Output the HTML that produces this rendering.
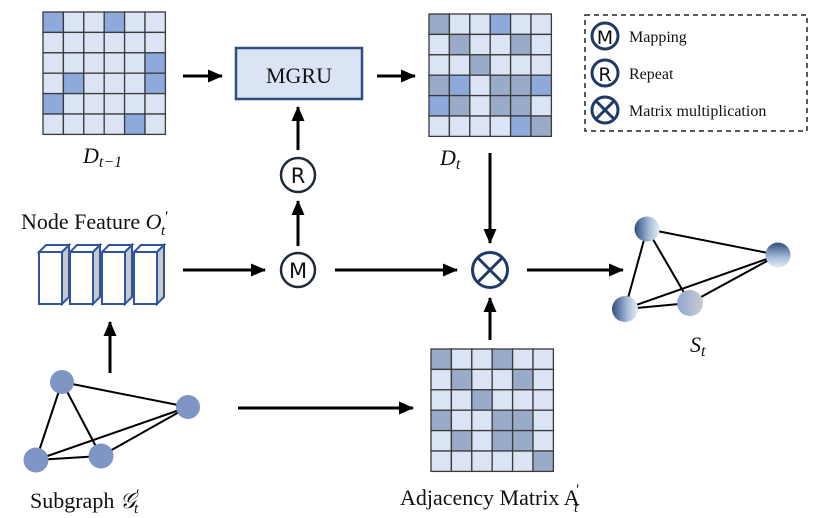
<!DOCTYPE html>
<html><head><meta charset="utf-8"><style>
html,body{margin:0;padding:0;background:#fff}
svg{display:block}
text{font-family:"Liberation Serif",serif;fill:#111}
.c rect{stroke:#3a3a3a;stroke-width:1.3}
.l{fill:#dbe4f4}.b{fill:#8eaadc}.g{fill:#9aabc9}
</style></head><body>
<svg width="813" height="518" viewBox="0 0 813 518" xmlns="http://www.w3.org/2000/svg">
<defs>
<marker id="ar" markerWidth="15" markerHeight="13" refX="14" refY="6.5" orient="auto" markerUnits="userSpaceOnUse" viewBox="0 0 15 13"><path d="M0,0 L15,6.5 L0,13 z" fill="#000"/></marker>
<linearGradient id="sg" x1="0" y1="0" x2="1" y2="0"><stop offset="0" stop-color="#2f4f7f"/><stop offset="0.6" stop-color="#a8bcd9"/><stop offset="1" stop-color="#e4ecf7"/></linearGradient>
<linearGradient id="sg2" x1="0" y1="0" x2="0" y2="1"><stop offset="0" stop-color="#2f4f7f"/><stop offset="0.6" stop-color="#a8bcd9"/><stop offset="1" stop-color="#e4ecf7"/></linearGradient>
<linearGradient id="sg3" x1="0" y1="0" x2="1" y2="0"><stop offset="0" stop-color="#8ea5d0"/><stop offset="1" stop-color="#c8ccd4"/></linearGradient>
</defs>

<!-- D_{t-1} -->
<g class="c" transform="translate(43,12)">
<rect class="b" x="0" y="0" width="20.4" height="20.4"/><rect class="l" x="20.4" y="0" width="20.4" height="20.4"/><rect class="l" x="40.8" y="0" width="20.4" height="20.4"/><rect class="b" x="61.2" y="0" width="20.4" height="20.4"/><rect class="l" x="81.6" y="0" width="20.4" height="20.4"/><rect class="l" x="102" y="0" width="20.4" height="20.4"/>
<rect class="l" x="0" y="20.4" width="20.4" height="20.4"/><rect class="l" x="20.4" y="20.4" width="20.4" height="20.4"/><rect class="l" x="40.8" y="20.4" width="20.4" height="20.4"/><rect class="l" x="61.2" y="20.4" width="20.4" height="20.4"/><rect class="l" x="81.6" y="20.4" width="20.4" height="20.4"/><rect class="l" x="102" y="20.4" width="20.4" height="20.4"/>
<rect class="l" x="0" y="40.8" width="20.4" height="20.4"/><rect class="l" x="20.4" y="40.8" width="20.4" height="20.4"/><rect class="l" x="40.8" y="40.8" width="20.4" height="20.4"/><rect class="l" x="61.2" y="40.8" width="20.4" height="20.4"/><rect class="l" x="81.6" y="40.8" width="20.4" height="20.4"/><rect class="b" x="102" y="40.8" width="20.4" height="20.4"/>
<rect class="l" x="0" y="61.2" width="20.4" height="20.4"/><rect class="b" x="20.4" y="61.2" width="20.4" height="20.4"/><rect class="l" x="40.8" y="61.2" width="20.4" height="20.4"/><rect class="l" x="61.2" y="61.2" width="20.4" height="20.4"/><rect class="l" x="81.6" y="61.2" width="20.4" height="20.4"/><rect class="b" x="102" y="61.2" width="20.4" height="20.4"/>
<rect class="b" x="0" y="81.6" width="20.4" height="20.4"/><rect class="l" x="20.4" y="81.6" width="20.4" height="20.4"/><rect class="l" x="40.8" y="81.6" width="20.4" height="20.4"/><rect class="l" x="61.2" y="81.6" width="20.4" height="20.4"/><rect class="l" x="81.6" y="81.6" width="20.4" height="20.4"/><rect class="l" x="102" y="81.6" width="20.4" height="20.4"/>
<rect class="l" x="0" y="102" width="20.4" height="20.4"/><rect class="l" x="20.4" y="102" width="20.4" height="20.4"/><rect class="l" x="40.8" y="102" width="20.4" height="20.4"/><rect class="l" x="61.2" y="102" width="20.4" height="20.4"/><rect class="b" x="81.6" y="102" width="20.4" height="20.4"/><rect class="l" x="102" y="102" width="20.4" height="20.4"/>
</g>

<!-- D_t -->
<g class="c" transform="translate(429,14)">
<rect class="g" x="0" y="0" width="20.4" height="20.4"/><rect class="l" x="20.4" y="0" width="20.4" height="20.4"/><rect class="l" x="40.8" y="0" width="20.4" height="20.4"/><rect class="b" x="61.2" y="0" width="20.4" height="20.4"/><rect class="l" x="81.6" y="0" width="20.4" height="20.4"/><rect class="l" x="102" y="0" width="20.4" height="20.4"/>
<rect class="l" x="0" y="20.4" width="20.4" height="20.4"/><rect class="g" x="20.4" y="20.4" width="20.4" height="20.4"/><rect class="l" x="40.8" y="20.4" width="20.4" height="20.4"/><rect class="l" x="61.2" y="20.4" width="20.4" height="20.4"/><rect class="g" x="81.6" y="20.4" width="20.4" height="20.4"/><rect class="l" x="102" y="20.4" width="20.4" height="20.4"/>
<rect class="l" x="0" y="40.8" width="20.4" height="20.4"/><rect class="l" x="20.4" y="40.8" width="20.4" height="20.4"/><rect class="g" x="40.8" y="40.8" width="20.4" height="20.4"/><rect class="l" x="61.2" y="40.8" width="20.4" height="20.4"/><rect class="l" x="81.6" y="40.8" width="20.4" height="20.4"/><rect class="l" x="102" y="40.8" width="20.4" height="20.4"/>
<rect class="g" x="0" y="61.2" width="20.4" height="20.4"/><rect class="b" x="20.4" y="61.2" width="20.4" height="20.4"/><rect class="l" x="40.8" y="61.2" width="20.4" height="20.4"/><rect class="g" x="61.2" y="61.2" width="20.4" height="20.4"/><rect class="g" x="81.6" y="61.2" width="20.4" height="20.4"/><rect class="b" x="102" y="61.2" width="20.4" height="20.4"/>
<rect class="b" x="0" y="81.6" width="20.4" height="20.4"/><rect class="g" x="20.4" y="81.6" width="20.4" height="20.4"/><rect class="l" x="40.8" y="81.6" width="20.4" height="20.4"/><rect class="g" x="61.2" y="81.6" width="20.4" height="20.4"/><rect class="g" x="81.6" y="81.6" width="20.4" height="20.4"/><rect class="l" x="102" y="81.6" width="20.4" height="20.4"/>
<rect class="l" x="0" y="102" width="20.4" height="20.4"/><rect class="l" x="20.4" y="102" width="20.4" height="20.4"/><rect class="l" x="40.8" y="102" width="20.4" height="20.4"/><rect class="l" x="61.2" y="102" width="20.4" height="20.4"/><rect class="b" x="81.6" y="102" width="20.4" height="20.4"/><rect class="g" x="102" y="102" width="20.4" height="20.4"/>
</g>

<!-- A_t -->
<g class="c" transform="translate(431,349)">
<rect class="g" x="0" y="0" width="20.4" height="20.4"/><rect class="l" x="20.4" y="0" width="20.4" height="20.4"/><rect class="l" x="40.8" y="0" width="20.4" height="20.4"/><rect class="g" x="61.2" y="0" width="20.4" height="20.4"/><rect class="l" x="81.6" y="0" width="20.4" height="20.4"/><rect class="l" x="102" y="0" width="20.4" height="20.4"/>
<rect class="l" x="0" y="20.4" width="20.4" height="20.4"/><rect class="g" x="20.4" y="20.4" width="20.4" height="20.4"/><rect class="l" x="40.8" y="20.4" width="20.4" height="20.4"/><rect class="l" x="61.2" y="20.4" width="20.4" height="20.4"/><rect class="g" x="81.6" y="20.4" width="20.4" height="20.4"/><rect class="l" x="102" y="20.4" width="20.4" height="20.4"/>
<rect class="l" x="0" y="40.8" width="20.4" height="20.4"/><rect class="l" x="20.4" y="40.8" width="20.4" height="20.4"/><rect class="g" x="40.8" y="40.8" width="20.4" height="20.4"/><rect class="l" x="61.2" y="40.8" width="20.4" height="20.4"/><rect class="l" x="81.6" y="40.8" width="20.4" height="20.4"/><rect class="l" x="102" y="40.8" width="20.4" height="20.4"/>
<rect class="g" x="0" y="61.2" width="20.4" height="20.4"/><rect class="l" x="20.4" y="61.2" width="20.4" height="20.4"/><rect class="l" x="40.8" y="61.2" width="20.4" height="20.4"/><rect class="g" x="61.2" y="61.2" width="20.4" height="20.4"/><rect class="g" x="81.6" y="61.2" width="20.4" height="20.4"/><rect class="l" x="102" y="61.2" width="20.4" height="20.4"/>
<rect class="l" x="0" y="81.6" width="20.4" height="20.4"/><rect class="g" x="20.4" y="81.6" width="20.4" height="20.4"/><rect class="l" x="40.8" y="81.6" width="20.4" height="20.4"/><rect class="g" x="61.2" y="81.6" width="20.4" height="20.4"/><rect class="g" x="81.6" y="81.6" width="20.4" height="20.4"/><rect class="l" x="102" y="81.6" width="20.4" height="20.4"/>
<rect class="l" x="0" y="102" width="20.4" height="20.4"/><rect class="l" x="20.4" y="102" width="20.4" height="20.4"/><rect class="l" x="40.8" y="102" width="20.4" height="20.4"/><rect class="l" x="61.2" y="102" width="20.4" height="20.4"/><rect class="l" x="81.6" y="102" width="20.4" height="20.4"/><rect class="g" x="102" y="102" width="20.4" height="20.4"/>
</g>

<!-- MGRU -->
<rect x="236" y="48" width="126" height="51" fill="#dbe4f4" stroke="#2f4e80" stroke-width="2.5"/>
<text x="299" y="83" font-size="22" text-anchor="middle">MGRU</text>

<!-- arrows -->
<g stroke="#000" stroke-width="3" fill="none">
<line x1="183" y1="76" x2="222" y2="76" marker-end="url(#ar)"/>
<line x1="377" y1="76" x2="415" y2="76" marker-end="url(#ar)"/>
<line x1="298" y1="150" x2="298" y2="107" marker-end="url(#ar)"/>
<line x1="298" y1="246" x2="298" y2="201" marker-end="url(#ar)"/>
<line x1="183" y1="270" x2="265" y2="270" marker-end="url(#ar)"/>
<line x1="335" y1="270" x2="457" y2="270" marker-end="url(#ar)"/>
<line x1="490" y1="153" x2="490" y2="243" marker-end="url(#ar)"/>
<line x1="490" y1="340" x2="490" y2="298" marker-end="url(#ar)"/>
<line x1="527" y1="270" x2="623" y2="270" marker-end="url(#ar)"/>
<line x1="110" y1="373" x2="110" y2="322" marker-end="url(#ar)"/>
<line x1="238" y1="408" x2="413" y2="408" marker-end="url(#ar)"/>
</g>

<!-- R and M circles -->
<circle cx="298" cy="175" r="17" fill="#fff" stroke="#1f2a3a" stroke-width="2.5"/>
<text x="298" y="183" font-size="21" text-anchor="middle" style="font-family:'DejaVu Sans',sans-serif">R</text>
<circle cx="298" cy="270" r="17" fill="#fff" stroke="#1f2a3a" stroke-width="2.5"/>
<text x="298" y="278" font-size="21" text-anchor="middle" style="font-family:'DejaVu Sans',sans-serif">M</text>

<!-- otimes -->
<circle cx="490" cy="270" r="17.5" fill="#fff" stroke="#1f3a66" stroke-width="3"/>
<line x1="478" y1="258" x2="502" y2="282" stroke="#1f3a66" stroke-width="3"/>
<line x1="502" y1="258" x2="478" y2="282" stroke="#1f3a66" stroke-width="3"/>

<!-- legend -->
<rect x="585" y="15" width="222" height="116" fill="none" stroke="#222" stroke-width="1.5" stroke-dasharray="5,4"/>
<g stroke="#1f3a66" stroke-width="3" fill="#fff">
<circle cx="605" cy="36" r="13"/><circle cx="605" cy="73" r="13"/><circle cx="605" cy="110" r="13"/>
</g>
<line x1="596" y1="101" x2="614" y2="119" stroke="#1f3a66" stroke-width="3"/>
<line x1="614" y1="101" x2="596" y2="119" stroke="#1f3a66" stroke-width="3"/>
<text x="605" y="44" font-size="19" text-anchor="middle" style="font-family:'DejaVu Sans',sans-serif">M</text>
<text x="605" y="81" font-size="19" text-anchor="middle" style="font-family:'DejaVu Sans',sans-serif">R</text>
<text x="629" y="42" font-size="16">Mapping</text>
<text x="629" y="79" font-size="16">Repeat</text>
<text x="629" y="116" font-size="16">Matrix multiplication</text>

<!-- labels -->
<text x="83" y="163" font-size="22" font-style="italic">D<tspan font-size="16" dy="4">t−1</tspan></text>
<text x="440" y="165" font-size="22" font-style="italic">D<tspan font-size="16" dy="4">t</tspan></text>
<text x="21" y="229" font-size="22">Node Feature <tspan font-style="italic">O</tspan></text>
<text x="165" y="222" font-size="16">′</text>
<text x="161" y="235" font-size="15" font-style="italic">t</text>
<text x="690" y="352" font-size="22" font-style="italic">S<tspan font-size="16" dy="4">t</tspan></text>
<text x="30" y="508" font-size="22">Subgraph <tspan font-style="italic">𝒢</tspan></text>
<text x="136" y="500" font-size="16">′</text>
<text x="134" y="513" font-size="15" font-style="italic">t</text>
<text x="400" y="505" font-size="22">Adjacency Matrix A</text>
<text x="576" y="495" font-size="16">′</text>
<text x="574" y="512" font-size="15" font-style="italic">t</text>

<!-- node feature prisms -->
<g stroke="#2f55a0" stroke-width="2">
<g transform="translate(39,0)"><polygon points="0,252 23,252 30,245 7,245" fill="#fff"/><polygon points="23,252 30,245 30,297 23,304" fill="#c8c8c8"/><rect x="0" y="252" width="23" height="52" fill="#fff"/></g>
<g transform="translate(70,0)"><polygon points="0,252 23,252 30,245 7,245" fill="#fff"/><polygon points="23,252 30,245 30,297 23,304" fill="#c8c8c8"/><rect x="0" y="252" width="23" height="52" fill="#fff"/></g>
<g transform="translate(102,0)"><polygon points="0,252 23,252 30,245 7,245" fill="#fff"/><polygon points="23,252 30,245 30,297 23,304" fill="#c8c8c8"/><rect x="0" y="252" width="23" height="52" fill="#fff"/></g>
<g transform="translate(134,0)"><polygon points="0,252 23,252 30,245 7,245" fill="#fff"/><polygon points="23,252 30,245 30,297 23,304" fill="#c8c8c8"/><rect x="0" y="252" width="23" height="52" fill="#fff"/></g>
</g>

<!-- subgraph -->
<g stroke="#000" stroke-width="2">
<line x1="62" y1="382" x2="188" y2="407"/><line x1="62" y1="382" x2="36" y2="460"/><line x1="62" y1="382" x2="101" y2="456"/>
<line x1="188" y1="407" x2="36" y2="460"/><line x1="188" y1="407" x2="101" y2="456"/><line x1="36" y1="460" x2="101" y2="456"/>
</g>
<g fill="#7f95c4"><circle cx="62" cy="382" r="12"/><circle cx="188" cy="407" r="12"/><circle cx="36" cy="460" r="12.5"/><circle cx="101" cy="456" r="12.5"/></g>

<!-- S_t graph -->
<g stroke="#000" stroke-width="2">
<line x1="647" y1="229" x2="778" y2="255"/><line x1="647" y1="229" x2="625" y2="309"/><line x1="647" y1="229" x2="690" y2="303"/>
<line x1="778" y1="255" x2="625" y2="309"/><line x1="778" y1="255" x2="690" y2="303"/><line x1="625" y1="309" x2="690" y2="303"/>
</g>
<circle cx="647" cy="229" r="12.5" fill="url(#sg)"/>
<circle cx="778" cy="255" r="12.5" fill="url(#sg2)"/>
<circle cx="625" cy="309" r="13" fill="url(#sg)"/>
<circle cx="690" cy="303" r="13" fill="url(#sg3)"/>
</svg>
</body></html>
